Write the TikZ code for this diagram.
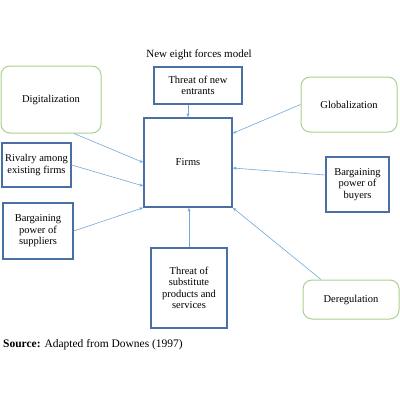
\documentclass[tikz,border=0pt]{standalone}
\usepackage{fontspec}
\setmainfont{Liberation Serif}
\usepackage{tikz}
\usetikzlibrary{arrows.meta, positioning, calc}
\usepackage{xcolor}
\definecolor{boxBlue}{HTML}{4A6FA5}
\definecolor{forceGreen}{HTML}{A9D18E}
\definecolor{arrowBlue}{HTML}{6FA8DC}

\begin{document}
\begin{tikzpicture}[
    x=1pt, y=-1pt,
    forcebox/.style={rectangle, draw=boxBlue, line width=1.3pt, align=center, inner sep=2pt, font=\fontsize{10.5}{11.5}\selectfont},
    trendbox/.style={rectangle, draw=forceGreen, line width=1pt, rounded corners=9pt, align=center, font=\fontsize{10.5}{11.5}\selectfont},
    arrow/.style={-{Stealth[length=4pt, width=3pt]}, draw=arrowBlue, line width=0.6pt}
]
\useasboundingbox (0,0) rectangle (400,400);

% Title
\node[font=\fontsize{11}{12}\selectfont] (title) at (199,55) {New eight forces model};

% Central box
\node[forcebox, minimum width=88pt, minimum height=89pt] (firms) at (188,162.5) {Firms};

% Blue forces
\node[forcebox, minimum width=88pt, minimum height=37pt] (entr) at (198,85.5) {Threat of new\\entrants};
\node[forcebox, minimum width=69pt, minimum height=44pt] (riv) at (36.5,165) {Rivalry among\\existing firms};
\node[forcebox, minimum width=70pt, minimum height=56pt] (supp) at (38,231) {Bargaining\\power of\\suppliers};
\node[forcebox, minimum width=76pt, minimum height=80pt] (subst) at (189,288) {Threat of\\substitute\\products and\\services};
\node[forcebox, minimum width=63pt, minimum height=55pt] (buy) at (357.5,184.5) {Bargaining\\power of\\buyers};

% Green trends
\node[trendbox, minimum width=100pt, minimum height=67pt] (dig) at (51,99.5) {Digitalization};
\node[trendbox, minimum width=96pt, minimum height=55pt] (glob) at (349,104.5) {Globalization};
\node[trendbox, minimum width=96pt, minimum height=39pt] (dereg) at (351,299.5) {Deregulation};

% Source line
\node[anchor=west, inner sep=0pt, font=\fontsize{11.5}{12}\selectfont] (src) at (3,345) {\textbf{Source:} Adapted from Downes (1997)};

% Connectors
\draw[arrow] ([xshift=23pt]dig.south) -- (firms.west);
\draw[arrow] (riv.east) -- ([yshift=-23.5pt]firms.west);
\draw[arrow] (supp.east) -- (firms.south west);
\draw[arrow] (entr.south -| firms.center) -- (firms.north);
\draw[arrow] (subst.north) -- (subst.north |- firms.south);
\draw[arrow] (glob.west) -- ([yshift=-16pt]firms.north east);
\draw[arrow] ([yshift=9.5pt]buy.west) -- ([yshift=-5.5pt]firms.east);
\draw[arrow] ([xshift=-30pt]dereg.north) -- (firms.south east);

\end{tikzpicture}
\end{document}
